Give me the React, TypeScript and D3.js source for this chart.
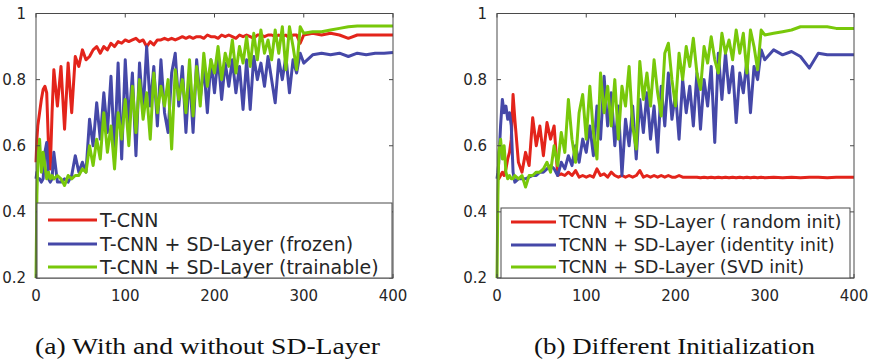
import * as d3 from 'd3'

const EPOCHS = [0, 1, ...d3.range(2, 21, 2), ...d3.range(24, 301, 4), ...d3.range(310, 401, 10)]

const X_TICKS = [0, 100, 200, 300, 400]
const Y_TICKS = [0.2, 0.4, 0.6, 0.8, 1]

// (a) With and without SD-Layer
const A_TCNN = [
  0.55, 0.62, 0.66, 0.7, 0.74, 0.77, 0.78, 0.76, 0.6, 0.53, 0.7, 0.83,
  0.72, 0.84, 0.65, 0.85, 0.7, 0.87, 0.84, 0.89, 0.86, 0.87,
  0.89, 0.9, 0.88, 0.9, 0.89, 0.91, 0.9, 0.915, 0.91, 0.92,
  0.915, 0.92, 0.925, 0.915, 0.92, 0.9, 0.915, 0.905, 0.92, 0.92,
  0.925, 0.92, 0.925, 0.92, 0.925, 0.93, 0.925, 0.93, 0.925, 0.93,
  0.93, 0.925, 0.935, 0.93, 0.93, 0.925, 0.935, 0.93, 0.935, 0.93,
  0.925, 0.935, 0.93, 0.935, 0.93, 0.925, 0.935, 0.935, 0.93, 0.935,
  0.935, 0.93, 0.935, 0.93, 0.935, 0.925, 0.935, 0.935, 0.91, 0.935,
  0.94, 0.935, 0.94, 0.935, 0.925, 0.935, 0.935, 0.935, 0.935, 0.935,
]
const A_FROZEN = [
  0.5, 0.52, 0.5, 0.5, 0.49, 0.5, 0.58, 0.61, 0.5, 0.49, 0.5, 0.58,
  0.49, 0.49, 0.5, 0.49, 0.51, 0.57, 0.52, 0.55, 0.52, 0.68,
  0.6, 0.73, 0.62, 0.76, 0.64, 0.81, 0.58, 0.85, 0.56, 0.86,
  0.66, 0.82, 0.57, 0.85, 0.7, 0.9, 0.72, 0.84, 0.66, 0.86,
  0.7, 0.64, 0.82, 0.88, 0.72, 0.84, 0.64, 0.82, 0.64, 0.86,
  0.74, 0.84, 0.7, 0.86, 0.76, 0.87, 0.74, 0.85, 0.78, 0.86,
  0.76, 0.84, 0.71, 0.86, 0.71, 0.87, 0.8, 0.85, 0.78, 0.87,
  0.8, 0.73, 0.86, 0.8, 0.87, 0.76, 0.86, 0.82, 0.88, 0.85,
  0.875, 0.88, 0.875, 0.88, 0.87, 0.88, 0.875, 0.88, 0.88, 0.882,
]
const A_TRAINABLE = [
  0.2, 0.45, 0.55, 0.62, 0.52, 0.58, 0.54, 0.5, 0.52, 0.5, 0.51, 0.5,
  0.51, 0.5, 0.48, 0.51, 0.5, 0.51, 0.51, 0.53, 0.52, 0.6,
  0.54, 0.62, 0.56, 0.7, 0.58, 0.66, 0.53, 0.7, 0.62, 0.74,
  0.6, 0.78, 0.64, 0.8, 0.68, 0.76, 0.62, 0.82, 0.7, 0.78,
  0.72, 0.8, 0.59, 0.83, 0.74, 0.8, 0.7, 0.86, 0.69, 0.84,
  0.72, 0.88, 0.78, 0.86, 0.82, 0.9, 0.8, 0.88, 0.84, 0.92,
  0.82, 0.9, 0.85, 0.93, 0.84, 0.94, 0.86, 0.95, 0.88, 0.92,
  0.86, 0.95, 0.88, 0.96, 0.83, 0.96, 0.9, 0.83, 0.96, 0.94,
  0.945, 0.945, 0.95, 0.955, 0.96, 0.962, 0.962, 0.962, 0.962, 0.962,
]

// (b) Different Initialization
const B_RANDOM = [
  0.5, 0.5, 0.5, 0.51, 0.52, 0.51, 0.53, 0.56, 0.58, 0.62, 0.755, 0.68,
  0.55, 0.52, 0.58, 0.54, 0.685, 0.6, 0.66, 0.57, 0.67, 0.62,
  0.66, 0.51, 0.515, 0.51, 0.52, 0.51, 0.525, 0.505, 0.51, 0.505,
  0.51, 0.505, 0.53, 0.51, 0.515, 0.505, 0.52, 0.51, 0.505, 0.51,
  0.505, 0.51, 0.505, 0.51, 0.525, 0.505, 0.51, 0.505, 0.51, 0.505,
  0.51, 0.505, 0.51, 0.505, 0.505, 0.51, 0.505, 0.505, 0.505, 0.505,
  0.505, 0.503, 0.505, 0.503, 0.505, 0.503, 0.505, 0.503, 0.505, 0.503,
  0.505, 0.503, 0.505, 0.503, 0.505, 0.503, 0.505, 0.503, 0.505, 0.503,
  0.505, 0.503, 0.505, 0.503, 0.505, 0.505, 0.503, 0.505, 0.505, 0.505,
]
const B_IDENTITY = [
  0.5, 0.52, 0.55, 0.66, 0.74, 0.7, 0.72, 0.68, 0.7, 0.66, 0.52, 0.49,
  0.5, 0.5, 0.5, 0.505, 0.51, 0.51, 0.52, 0.52, 0.53, 0.54,
  0.53, 0.51, 0.55, 0.53, 0.57, 0.54, 0.6, 0.55, 0.62, 0.58,
  0.66, 0.57, 0.72, 0.62, 0.81, 0.66, 0.76, 0.6, 0.72, 0.51,
  0.68, 0.6, 0.72, 0.56, 0.74, 0.64, 0.76, 0.62, 0.72, 0.58,
  0.78, 0.66, 0.82, 0.68, 0.76, 0.62, 0.8, 0.7, 0.78, 0.66,
  0.82, 0.65, 0.8, 0.72, 0.84, 0.61, 0.88, 0.74, 0.88, 0.76,
  0.84, 0.67, 0.82, 0.76, 0.86, 0.7, 0.84, 0.8, 0.89, 0.86,
  0.89, 0.875, 0.885, 0.87, 0.835, 0.88, 0.875, 0.875, 0.875, 0.875,
]
const B_SVD = [
  0.2, 0.45, 0.58, 0.62, 0.56, 0.6, 0.52, 0.5, 0.51, 0.5, 0.5, 0.51,
  0.5, 0.51, 0.475, 0.51, 0.51, 0.52, 0.52, 0.53, 0.55, 0.52,
  0.6, 0.54, 0.64, 0.58, 0.74, 0.62, 0.55, 0.7, 0.755, 0.62,
  0.78, 0.64, 0.56, 0.82, 0.7, 0.78, 0.66, 0.8, 0.62, 0.78,
  0.72, 0.84, 0.66, 0.59, 0.855, 0.74, 0.82, 0.72, 0.86, 0.76,
  0.69, 0.88, 0.91, 0.8, 0.72, 0.88, 0.8, 0.9, 0.84, 0.925,
  0.82, 0.77, 0.9, 0.85, 0.93, 0.86, 0.82, 0.94, 0.88, 0.92,
  0.86, 0.95, 0.88, 0.94, 0.82, 0.95, 0.9, 0.83, 0.95, 0.935,
  0.94, 0.945, 0.95, 0.96, 0.96, 0.96, 0.96, 0.955, 0.955, 0.955,
]

const RED = '#e3241b'
const BLUE = '#4548a8'
const GREEN = '#78c80a'
const AXIS = '#4a4a4a'
const TEXT = '#262626'

type Series = {label: string; values: number[]; color: string}

type PanelProps = {
  left: number
  right: number
  top: number
  bottom: number
  legendTop: number
  legendInset: number
  legendLine: [number, number]
  legendRows: number[]
  legendFont: number
  series: Series[]
}

const Panel = ({left, right, top, bottom, legendTop, legendInset, legendLine, legendRows, legendFont, series}: PanelProps) => {
  const x = d3.scaleLinear().domain([0, 400]).range([left, right])
  const y = d3.scaleLinear().domain([0.2, 1]).range([bottom, top])
  const line = d3
    .line<number>()
    .x((_, i) => x(EPOCHS[i]))
    .y(d => y(d))

  const TICK = 4
  return (
    <g>
      {series.map(s => (
        <path key={s.label} d={line(s.values) || ''} fill="none" stroke={s.color} strokeWidth={3} strokeLinejoin="round" />
      ))}
      <rect x={left} y={top} width={right - left} height={bottom - top} fill="none" stroke={AXIS} strokeWidth={1} />
      {X_TICKS.map(t => (
        <g key={'x' + t}>
          <line x1={x(t)} x2={x(t)} y1={bottom} y2={bottom - TICK} stroke={AXIS} />
          <line x1={x(t)} x2={x(t)} y1={top} y2={top + TICK} stroke={AXIS} />
          <text x={x(t)} y={bottom + 23} textAnchor="middle" fontSize={15} fill={TEXT}>
            {t}
          </text>
        </g>
      ))}
      {Y_TICKS.map(t => (
        <g key={'y' + t}>
          <line x1={left} x2={left + TICK} y1={y(t)} y2={y(t)} stroke={AXIS} />
          <line x1={right} x2={right - TICK} y1={y(t)} y2={y(t)} stroke={AXIS} />
          <text x={left - 10} y={y(t)} dy="0.36em" textAnchor="end" fontSize={15} fill={TEXT}>
            {t}
          </text>
        </g>
      ))}
      <rect
        x={left + legendInset}
        y={legendTop}
        width={right - left - 2 * legendInset}
        height={bottom - legendTop}
        fill="white"
        stroke={AXIS}
        strokeWidth={1}
      />
      {series.map((s, i) => (
        <g key={'l' + s.label}>
          <line x1={legendLine[0]} x2={legendLine[1]} y1={legendRows[i]} y2={legendRows[i]} stroke={s.color} strokeWidth={3} />
          <text x={legendLine[1] + 3} y={legendRows[i]} dy="0.36em" fontSize={legendFont} fill={TEXT}>
            {s.label}
          </text>
        </g>
      ))}
    </g>
  )
}

export default function App() {
  return (
    <svg
      width={871}
      height={361}
      style={{position: 'absolute', left: 0, top: 0, background: 'white'}}
      fontFamily="'DejaVu Sans', sans-serif">
      <Panel
        left={36}
        right={393}
        top={13.5}
        bottom={278}
        legendTop={203}
        legendInset={1}
        legendLine={[48, 97]}
        legendRows={[220, 244, 267]}
        legendFont={19}
        series={[
          {label: 'T-CNN', values: A_TCNN, color: RED},
          {label: 'T-CNN + SD-Layer (frozen)', values: A_FROZEN, color: BLUE},
          {label: 'T-CNN + SD-Layer (trainable)', values: A_TRAINABLE, color: GREEN},
        ]}
      />
      <Panel
        left={497}
        right={854}
        top={13.5}
        bottom={278}
        legendTop={208}
        legendInset={4}
        legendLine={[511, 556]}
        legendRows={[222, 245, 267]}
        legendFont={17.7}
        series={[
          {label: 'TCNN + SD-Layer ( random init)', values: B_RANDOM, color: RED},
          {label: 'TCNN + SD-Layer (identity init)', values: B_IDENTITY, color: BLUE},
          {label: 'TCNN + SD-Layer (SVD init)', values: B_SVD, color: GREEN},
        ]}
      />
      <text x={35} y={354} fontFamily="'Liberation Serif', serif" fontSize={23} fill="#111" textLength={345} lengthAdjust="spacingAndGlyphs">
        (a) With and without SD-Layer
      </text>
      <text x={534} y={354} fontFamily="'Liberation Serif', serif" fontSize={23} fill="#111" textLength={281} lengthAdjust="spacingAndGlyphs">
        (b) Different Initialization
      </text>
    </svg>
  )
}
